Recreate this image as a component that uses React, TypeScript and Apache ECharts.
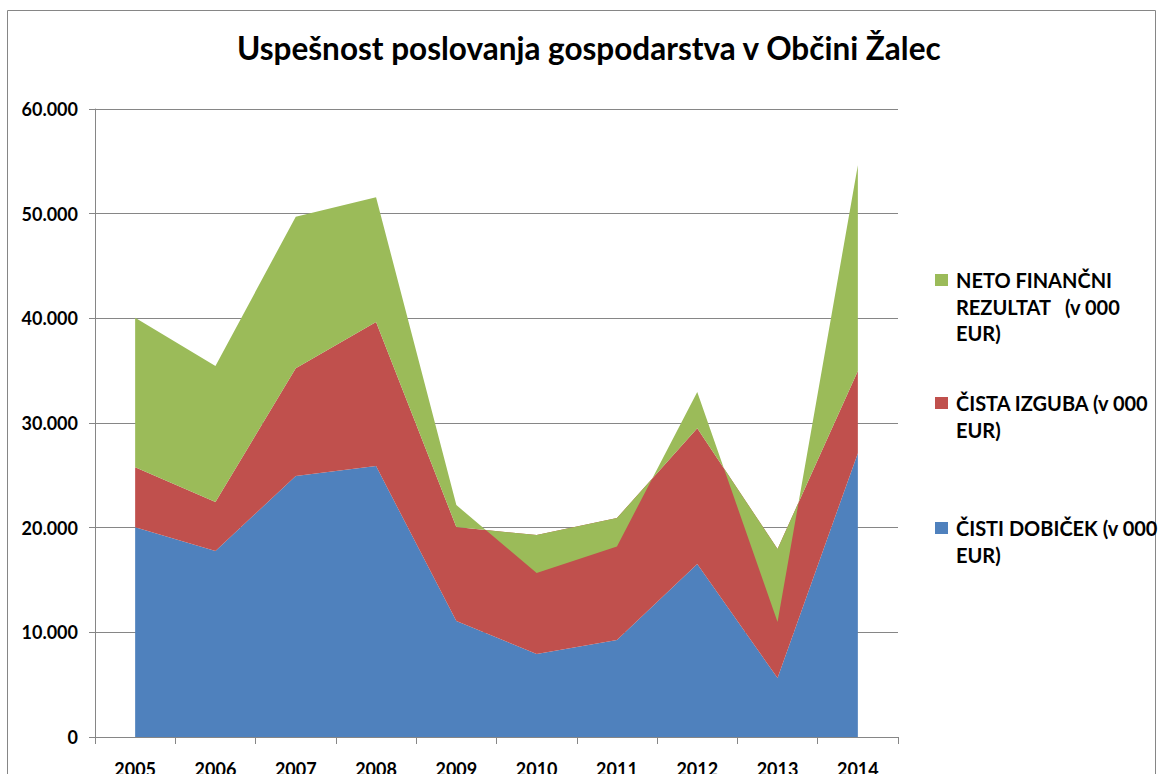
import React, { useEffect, useRef } from "react";
import * as echarts from "echarts";

const years = ["2005", "2006", "2007", "2008", "2009", "2010", "2011", "2012", "2013", "2014"];
const cistiDobicek = [20030, 17770, 24940, 25880, 11080, 7930, 9260, 16520, 5640, 27120];
const cistaIzguba = [5740, 4680, 10280, 13760, 8980, 11360, 11660, 12990, 12320, 7840];
const netoRezultat = [14280, 12990, 14490, 11940, 2100, -3630, -2710, 3440, -6980, 19670];

const yTicks = { min: 0, max: 60000, interval: 10000 };

const NAME_DOB = "ČISTI DOBIČEK (v 000 EUR)";
const NAME_IZG = "ČISTA IZGUBA (v 000 EUR)";
const NAME_NET = "NETO FINANČNI REZULTAT   (v 000 EUR)";

const legendLabels: Record<string, string> = {
  [NAME_NET]: "NETO FINANČNI\nREZULTAT   (v 000\nEUR)",
  [NAME_IZG]: "ČISTA IZGUBA (v 000\nEUR)",
  [NAME_DOB]: "ČISTI DOBIČEK (v 000\nEUR)",
};

const COLORS = { dob: "#4F81BD", izg: "#C0504D", net: "#9BBB59" };
const FONT = "Lato";
const GRAY = "#868686";
const LH = 26.5;
const ICON_W = 13;
const ICON_H = 12;

function fmt(v: number): string {
  return String(v).replace(/\B(?=(\d{3})+(?!\d))/g, ".");
}

// Tall legend icon whose visible square sits beside the first text line.
function legendFor(name: string, iconTop: number) {
  const lines = legendLabels[name].split("\n").length;
  const h = lines * LH;
  const sqTop = LH / 2 - ICON_H / 2;
  const sqBot = sqTop + ICON_H;
  const icon =
    `path://M0,0 L${ICON_W},0 L${ICON_W},0 Z ` +
    `M0,${sqTop} L${ICON_W},${sqTop} L${ICON_W},${sqBot} L0,${sqBot} Z ` +
    `M0,${h} L${ICON_W},${h} L${ICON_W},${h} Z`;
  return {
    left: 935,
    top: iconTop - sqTop,
    orient: "vertical",
    padding: 0,
    itemWidth: ICON_W,
    itemHeight: h,
    icon,
    selectedMode: false,
    itemStyle: { borderWidth: 0 },
    data: [name],
    formatter: (n: string) => legendLabels[n] ?? n,
    textStyle: {
      fontFamily: FONT,
      fontWeight: "bold",
      fontSize: 20,
      color: "#000",
      lineHeight: LH,
      padding: [0, 0, 0, 3],
    },
  };
}

export default function App() {
  const ref = useRef<HTMLDivElement>(null);
  useEffect(() => {
    if (!ref.current) return;
    const chart = echarts.init(ref.current, undefined, { renderer: "svg" });
    const areaSeries = (name: string, data: number[], color: string) => ({
      name,
      type: "line",
      stack: "total",
      stackStrategy: "all",
      data,
      showSymbol: false,
      symbol: "none",
      lineStyle: { width: 0, color },
      itemStyle: { color },
      areaStyle: { color, opacity: 1 },
    });
    chart.setOption({
      animation: false,
      backgroundColor: "#fff",
      title: {
        text: "Uspešnost poslovanja gospodarstva v Občini Žalec",
        left: 237,
        top: 32,
        padding: 0,
        textStyle: { fontFamily: FONT, fontWeight: "bold", fontSize: 31.5, color: "#000" },
      },
      legend: [legendFor(NAME_NET, 274), legendFor(NAME_IZG, 397), legendFor(NAME_DOB, 522)],
      grid: {
        left: 95,
        right: 264,
        top: 109,
        bottom: 37,
        containLabel: false,
        outerBoundsMode: "none",
      },
      xAxis: {
        type: "category",
        data: years,
        boundaryGap: true,
        axisLine: { show: true, lineStyle: { color: GRAY, width: 1 } },
        axisTick: { show: true, length: 7, lineStyle: { color: GRAY } },
        axisLabel: {
          fontFamily: FONT,
          fontWeight: "bold",
          fontSize: 18,
          color: "#000",
          margin: 23,
        },
        splitLine: { show: false },
      },
      yAxis: {
        type: "value",
        min: yTicks.min,
        max: yTicks.max,
        interval: yTicks.interval,
        axisLine: { show: true, lineStyle: { color: GRAY, width: 1 } },
        axisTick: { show: true, length: 6, lineStyle: { color: GRAY } },
        axisLabel: {
          fontFamily: FONT,
          fontWeight: "bold",
          fontSize: 18,
          color: "#000",
          margin: 17,
          formatter: (v: number) => fmt(v),
        },
        splitLine: { show: true, lineStyle: { color: GRAY, width: 1 } },
      },
      series: [
        areaSeries(NAME_DOB, cistiDobicek, COLORS.dob),
        areaSeries(NAME_IZG, cistaIzguba, COLORS.izg),
        areaSeries(NAME_NET, netoRezultat, COLORS.net),
      ],
      graphic: [
        {
          type: "rect",
          silent: true,
          z: -1,
          shape: { x: 7.5, y: 10.5, width: 1148, height: 800 },
          style: { fill: "none", stroke: GRAY, lineWidth: 1 },
        },
      ],
    });
    return () => chart.dispose();
  }, []);
  return (
    <div
      ref={ref}
      style={{ position: "fixed", left: 0, top: 0, width: 1162, height: 774 }}
    />
  );
}
